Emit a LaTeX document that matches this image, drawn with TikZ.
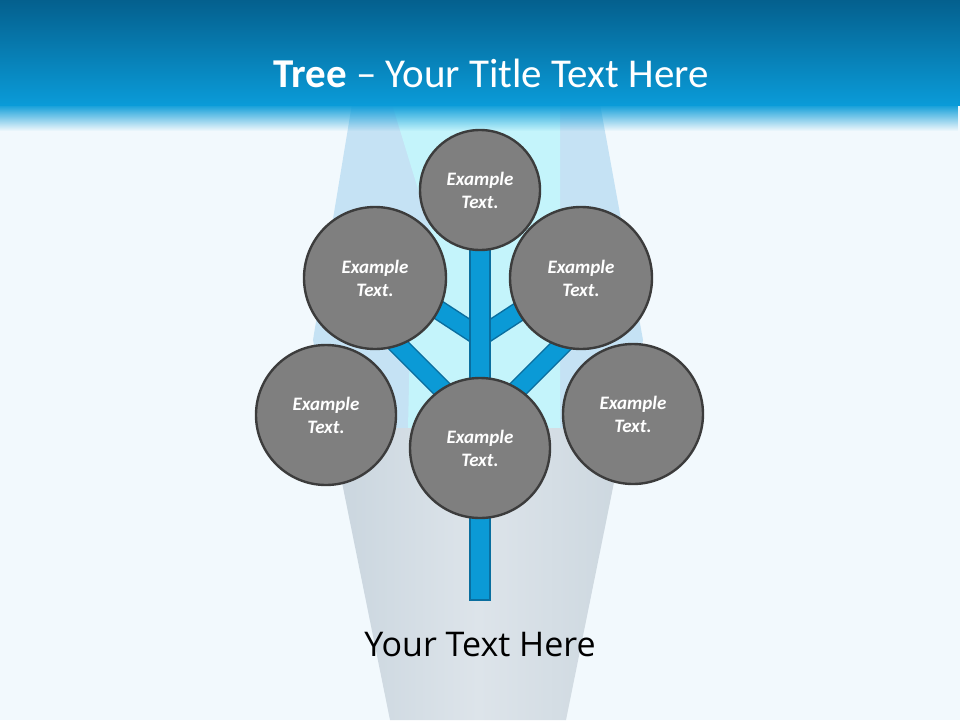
\documentclass[tikz,border=0pt]{standalone}
\usepackage{fontspec}
\usetikzlibrary{fadings}
\setmainfont{Carlito}
\newfontfamily\bodyfont{Open Sans}
\definecolor{slidebg}{HTML}{F2F9FD}
\definecolor{bandtop}{HTML}{04608E}
\definecolor{bandlow}{HTML}{0A9BD8}
\definecolor{vaseblue}{HTML}{C5E2F4}
\definecolor{vasecyan}{HTML}{C4F4FB}
\definecolor{vasegreyA}{HTML}{C9D5DE}
\definecolor{vasegreyB}{HTML}{DDE4EA}
\definecolor{vasegreyC}{HTML}{CCD7DF}
\definecolor{trunkblue}{HTML}{0B9AD6}
\definecolor{trunkedge}{HTML}{0A6E9F}
\definecolor{leafgray}{HTML}{7F7F7F}
\definecolor{leafedge}{HTML}{3C3C3C}
\tikzfading[name=bandfade, top color=transparent!0, bottom color=transparent!100]
\begin{document}
\begin{tikzpicture}[x=1pt,y=-1pt,
	leaf/.style={circle, minimum size=#1, inner sep=0pt, fill=leafgray,
		draw=leafedge, line width=2.4pt, text=white, align=center,
		font=\fontsize{19}{23}\selectfont\bfseries\itshape},
	leaf/.default=140,
	branchedge/.style={draw=trunkedge, line width=20pt},
	branchfill/.style={draw=trunkblue, line width=17pt}]
	\useasboundingbox (0,0) rectangle (960,720);
	% background
	\fill[slidebg] (0,0) rectangle (960,720);
	% glass vase behind the tree
	\fill[vaseblue] (352,104) -- (313,340) -- (331,428) -- (625,428) -- (643,340) -- (600,104) -- cycle;
	\fill[vasecyan] (392,104) -- (432,235) -- (410,340) -- (408,428) -- (560,428) -- (560,104) -- cycle;
	\shade[left color=vasegreyA, right color=vasegreyC, middle color=vasegreyB]
		(331,428) -- (390,720) -- (566,720) -- (625,428) -- cycle;
	% title band
	\shade[top color=bandtop, bottom color=bandlow] (0,0) rectangle (960,105);
	\fill[bandlow, path fading=bandfade] (0,104) rectangle (960,131);
	\node[anchor=base, text=white, font=\fontsize{41}{48}\selectfont] (title) at (491,87)
		{\textbf{Tree} -- Your Title Text Here};
	% branches and trunk
	\coordinate (fork1) at (480,337);
	\coordinate (fork2) at (480,427);
	\coordinate (tipUL) at (385,275);
	\coordinate (tipUR) at (575,275);
	\coordinate (tipLL) at (390,337);
	\coordinate (tipLR) at (570,337);
	\foreach \a/\b in {fork1/tipUL,fork1/tipUR,fork2/tipLL,fork2/tipLR}{
		\draw[branchedge] (\a) -- (\b);
		\draw[branchfill] (\a) -- (\b);
	}
	\filldraw[fill=trunkblue, draw=trunkedge, line width=1.5pt] (470,240) rectangle (490,600);
	% leaves
	\node[leaf=120] (crown) at (480,190) {Example\\Text.};
	\node[leaf=142] (upleft) at (375,278) {Example\\Text.};
	\node[leaf=142] (upright) at (581,278) {Example\\Text.};
	\node[leaf] (lowleft) at (326,415) {Example\\Text.};
	\node[leaf] (lowright) at (633,414) {Example\\Text.};
	\node[leaf] (base) at (480,448) {Example\\Text.};
	\node[anchor=base, font=\bodyfont\fontsize{34}{40}\selectfont] (caption) at (480,656) {Your Text Here};
\end{tikzpicture}
\end{document}
